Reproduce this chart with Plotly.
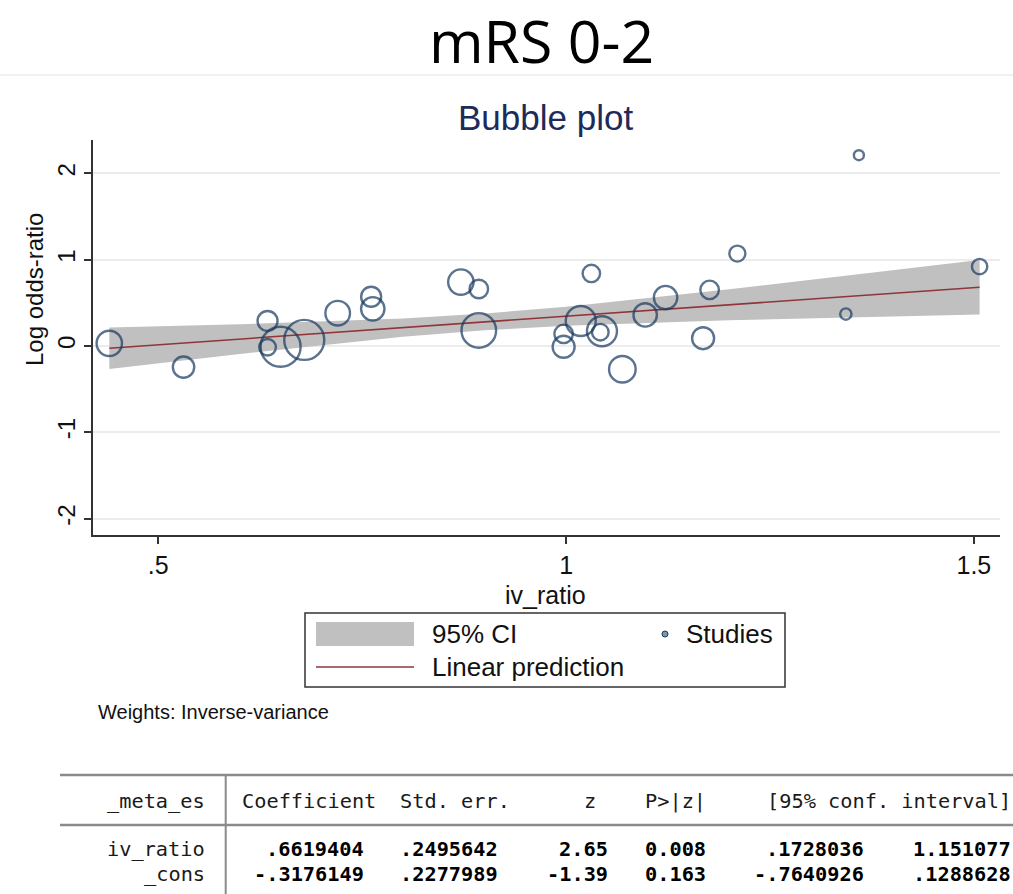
import math
import plotly.graph_objects as go

# ---------------- data ----------------
iv_ratio = [0.440, 0.531, 0.634, 0.634, 0.650, 0.679, 0.720, 0.761, 0.763, 0.871,
            0.893, 0.893, 0.997, 0.997, 1.018, 1.031, 1.042, 1.044, 1.069, 1.097,
            1.122, 1.168, 1.176, 1.210, 1.343, 1.359, 1.507]
log_or = [0.03, -0.245, 0.29, -0.015, -0.01, 0.07, 0.38, 0.57, 0.43, 0.74,
          0.66, 0.18, 0.14, -0.01, 0.29, 0.84, 0.16, 0.17, -0.27, 0.36,
          0.56, 0.09, 0.65, 1.07, 0.37, 2.21, 0.92]
weights = [161, 114, 100, 69, 400, 400, 151, 100, 137, 161,
           86, 299, 86, 121, 225, 76, 69, 225, 177, 137,
           137, 121, 86, 64, 32, 25, 59]

ci_x = [0.440, 0.6, 0.8, 0.9, 1.0, 1.2, 1.4, 1.507]
ci_lo = [-0.267, -0.092, 0.106, 0.181, 0.234, 0.297, 0.342, 0.364]
ci_hi = [0.215, 0.252, 0.318, 0.375, 0.455, 0.656, 0.876, 0.996]
pred = [-0.026, 0.080, 0.212, 0.278, 0.344, 0.477, 0.609, 0.680]

x_tickvals = [0.5, 1, 1.5]
x_ticktext = [".5", "1", "1.5"]
y_tickvals = [-2, -1, 0, 1, 2]
y_ticktext = ["-2", "-1", "0", "1", "2"]

tbl_header = ["_meta_es", "Coefficient", "Std. err.", "z", "P>|z|", "[95% conf. interval]"]
tbl_rows = ["iv_ratio", "_cons"]
tbl_coef = [".6619404", "-.3176149"]
tbl_se = [".2495642", ".2277989"]
tbl_z = ["2.65", "-1.39"]
tbl_p = ["0.008", "0.163"]
tbl_lo = [".1728036", "-.7640926"]
tbl_hi = ["1.151077", ".1288628"]

# ---------------- layout helpers ----------------
FW, FH = 1013, 894
L, R, T, B = 93, 1000, 140, 535
PW, PH = R - L, B - T


def X(px):
    return (px - L) / PW


def Y(py):
    return (B - py) / PH


NAVY = "#17395f"
MAROON = "#90353b"
GRAY = "#c0c0c0"
SANS = "Liberation Sans, Arial, sans-serif"
MONO = "DejaVu Sans Mono, monospace"

fig = go.Figure()

fig.add_trace(go.Scatter(x=ci_x, y=ci_hi, mode="lines", line=dict(width=0),
                         hoverinfo="skip", showlegend=False))
fig.add_trace(go.Scatter(x=ci_x, y=ci_lo, mode="lines", line=dict(width=0),
                         fill="tonexty", fillcolor=GRAY, name="95% CI", showlegend=False))
fig.add_trace(go.Scatter(x=ci_x, y=pred, mode="lines",
                         line=dict(color=MAROON, width=1.6), name="Linear prediction",
                         showlegend=False))
fig.add_trace(go.Scatter(x=iv_ratio, y=log_or, mode="markers", name="Studies",
                         marker=dict(size=[2 * math.sqrt(w) for w in weights],
                                     color="rgba(0,0,0,0)",
                                     line=dict(color=NAVY, width=2.4)),
                         showlegend=False))

shapes = []
annotations = []

# faint separator below main title
shapes.append(dict(type="line", xref="paper", yref="paper", x0=X(0), x1=X(FW),
                   y0=Y(75), y1=Y(75), line=dict(color="#ececec", width=1.5)))

annotations.append(dict(text="mRS 0-2", x=X(541), y=Y(40), xref="paper", yref="paper",
                        showarrow=False, xanchor="center", yanchor="middle",
                        font=dict(family="Open Sans, sans-serif", size=59, color="#000000")))
annotations.append(dict(text="Bubble plot", x=X(545), y=Y(118), xref="paper", yref="paper",
                        showarrow=False, xanchor="center", yanchor="middle",
                        font=dict(family=SANS, size=35, color="#1e2a5a")))
annotations.append(dict(text="Log odds-ratio", x=X(34), y=Y(289), xref="paper", yref="paper",
                        showarrow=False, xanchor="center", yanchor="middle", textangle=-90,
                        font=dict(family=SANS, size=24, color="#111111")))
annotations.append(dict(text="iv_ratio", x=X(545), y=Y(595), xref="paper", yref="paper",
                        showarrow=False, xanchor="center", yanchor="middle",
                        font=dict(family=SANS, size=25, color="#111111")))

# legend
shapes.append(dict(type="rect", xref="paper", yref="paper", x0=X(305), x1=X(785),
                   y0=Y(687), y1=Y(613), line=dict(color="#333333", width=1.5),
                   fillcolor="white"))
shapes.append(dict(type="rect", xref="paper", yref="paper", x0=X(316), x1=X(414),
                   y0=Y(646), y1=Y(622), line=dict(width=0), fillcolor=GRAY))
shapes.append(dict(type="line", xref="paper", yref="paper", x0=X(316), x1=X(414),
                   y0=Y(667), y1=Y(667), line=dict(color=MAROON, width=1.6)))
shapes.append(dict(type="circle", xref="paper", yref="paper", x0=X(662), x1=X(668),
                   y0=Y(637), y1=Y(631), line=dict(color=NAVY, width=1), fillcolor="#7f95aa"))
for txt, px, py in [("95% CI", 430, 634), ("Linear prediction", 430, 667), ("Studies", 684, 634)]:
    annotations.append(dict(text=txt, x=X(px), y=Y(py), xref="paper", yref="paper",
                            showarrow=False, xanchor="left", yanchor="middle",
                            font=dict(family=SANS, size=26, color="#111111")))

annotations.append(dict(text="Weights: Inverse-variance", x=X(96), y=Y(712), xref="paper",
                        yref="paper", showarrow=False, xanchor="left", yanchor="middle",
                        font=dict(family=SANS, size=20, color="#111111")))

# regression table
CW = 12.2
C0 = 61


def col(c):
    return C0 + c * CW


shapes.append(dict(type="line", xref="paper", yref="paper", x0=X(60), x1=X(FW),
                   y0=Y(775), y1=Y(775), line=dict(color="#8a8a8a", width=2.5)))
shapes.append(dict(type="line", xref="paper", yref="paper", x0=X(60), x1=X(FW),
                   y0=Y(825), y1=Y(825), line=dict(color="#8a8a8a", width=2.5)))
shapes.append(dict(type="line", xref="paper", yref="paper", x0=X(col(13.5)), x1=X(col(13.5)),
                   y0=Y(775), y1=Y(FH), line=dict(color="#8a8a8a", width=2)))

header_ends = [12, 26, 37, 44, 53, 78]
for txt, ce in zip(tbl_header, header_ends):
    annotations.append(dict(text=txt, x=X(col(ce)), y=Y(801), xref="paper", yref="paper",
                            showarrow=False, xanchor="right", yanchor="middle",
                            font=dict(family=MONO, size=20.3, color="#1a1a1a")))

row_ys = [849, 874]
cell_ends = [25, 36, 45, 53, 66, 78]
for i, name in enumerate(tbl_rows):
    annotations.append(dict(text=name, x=X(col(12)), y=Y(row_ys[i]), xref="paper", yref="paper",
                            showarrow=False, xanchor="right", yanchor="middle",
                            font=dict(family=MONO, size=20.3, color="#1a1a1a")))
    vals = [tbl_coef[i], tbl_se[i], tbl_z[i], tbl_p[i], tbl_lo[i], tbl_hi[i]]
    for v, ce in zip(vals, cell_ends):
        annotations.append(dict(text="<b>" + v + "</b>", x=X(col(ce)), y=Y(row_ys[i]),
                                xref="paper", yref="paper", showarrow=False,
                                xanchor="right", yanchor="middle",
                                font=dict(family=MONO, size=20.3, color="#000000")))

fig.update_layout(
    width=FW, height=FH,
    margin=dict(l=L, r=FW - R, t=T, b=FH - B),
    paper_bgcolor="white", plot_bgcolor="white",
    showlegend=False,
    shapes=shapes, annotations=annotations,
    xaxis=dict(range=[0.420, 1.532], tickvals=x_tickvals, ticktext=x_ticktext,
               ticks="outside", ticklen=7, tickwidth=1.5, tickcolor="#333333",
               showline=True, linecolor="#333333", linewidth=1.5,
               showgrid=False, zeroline=False, ticklabelstandoff=0,
               tickfont=dict(family=SANS, size=25, color="#111111")),
    yaxis=dict(range=[-2.19, 2.386], tickvals=y_tickvals, ticktext=y_ticktext,
               tickangle=-90, ticks="outside", ticklen=7, tickwidth=1.5, tickcolor="#333333",
               showline=True, linecolor="#333333", linewidth=1.5,
               showgrid=True, gridcolor="#ececec", gridwidth=1.5, zeroline=False,
               tickfont=dict(family=SANS, size=24, color="#111111")),
)

fig.write_html("out.html")
